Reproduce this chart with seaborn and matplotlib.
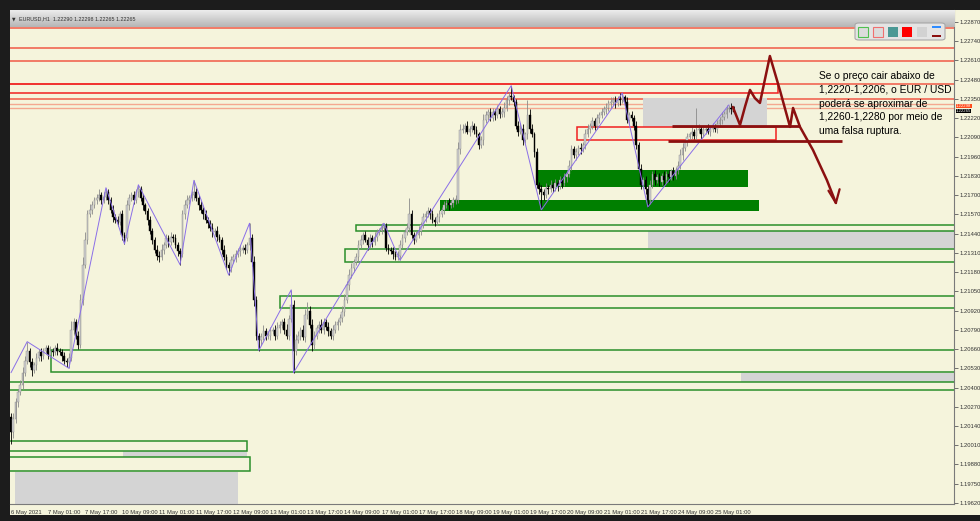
import numpy as np
import pandas as pd
import seaborn as sns
import matplotlib.pyplot as plt
from matplotlib.patches import Rectangle, FancyBboxPatch

# ---------------- data (EURUSD H1) ----------------
first_open = 1.2020
closes = [
    1.2010, 1.2019, 1.2030, 1.2037, 1.2042, 1.2050, 1.2058, 1.2065, 1.2057, 1.2052, 1.2055, 1.2060, 1.2064, 1.2061, 1.2065, 1.2067,
    1.2062, 1.2065, 1.2064, 1.2067, 1.2065, 1.2064, 1.2061, 1.2058, 1.2057, 1.2060, 1.2079, 1.2084, 1.2075, 1.2069, 1.2099, 1.2123,
    1.2140, 1.2157, 1.2160, 1.2163, 1.2167, 1.2168, 1.2170, 1.2167, 1.2169, 1.2172, 1.2167, 1.2160, 1.2155, 1.2153, 1.2152, 1.2157,
    1.2143, 1.2141, 1.2163, 1.2168, 1.2170, 1.2167, 1.2172, 1.2174, 1.2168, 1.2163, 1.2159, 1.2153, 1.2146, 1.2140, 1.2133, 1.2129,
    1.2128, 1.2133, 1.2136, 1.2141, 1.2138, 1.2142, 1.2141, 1.2136, 1.2132, 1.2130, 1.2157, 1.2163, 1.2167, 1.2168, 1.2170, 1.2172,
    1.2168, 1.2163, 1.2160, 1.2157, 1.2153, 1.2151, 1.2148, 1.2145, 1.2146, 1.2142, 1.2140, 1.2133, 1.2128, 1.2123, 1.2121, 1.2126,
    1.2128, 1.2130, 1.2132, 1.2133, 1.2134, 1.2133, 1.2136, 1.2141, 1.2125, 1.2099, 1.2075, 1.2072, 1.2074, 1.2078, 1.2075, 1.2075,
    1.2078, 1.2079, 1.2075, 1.2080, 1.2082, 1.2084, 1.2079, 1.2075, 1.2086, 1.2096, 1.2065, 1.2072, 1.2075, 1.2079, 1.2074, 1.2089,
    1.2092, 1.2082, 1.2069, 1.2075, 1.2080, 1.2082, 1.2079, 1.2084, 1.2081, 1.2078, 1.2075, 1.2079, 1.2082, 1.2084, 1.2087, 1.2091,
    1.2099, 1.2109, 1.2116, 1.2121, 1.2125, 1.2128, 1.2136, 1.2140, 1.2143, 1.2140, 1.2136, 1.2141, 1.2138, 1.2142, 1.2145, 1.2146,
    1.2148, 1.2149, 1.2134, 1.2133, 1.2132, 1.2130, 1.2128, 1.2129, 1.2136, 1.2141, 1.2145, 1.2148, 1.2157, 1.2143, 1.2140, 1.2143,
    1.2146, 1.2150, 1.2155, 1.2157, 1.2159, 1.2157, 1.2153, 1.2152, 1.2155, 1.2157, 1.2160, 1.2163, 1.2165, 1.2163, 1.2165, 1.2167,
    1.2167, 1.2201, 1.2214, 1.2215, 1.2217, 1.2213, 1.2215, 1.2217, 1.2214, 1.2211, 1.2204, 1.2207, 1.2221, 1.2224, 1.2226, 1.2222,
    1.2226, 1.2224, 1.2228, 1.2225, 1.2226, 1.2229, 1.2234, 1.2237, 1.2236, 1.2233, 1.2217, 1.2213, 1.2215, 1.2207, 1.2211, 1.2224,
    1.2215, 1.2211, 1.2199, 1.2177, 1.2174, 1.2172, 1.2170, 1.2175, 1.2174, 1.2177, 1.2175, 1.2178, 1.2176, 1.2180, 1.2178, 1.2182,
    1.2184, 1.2190, 1.2201, 1.2197, 1.2199, 1.2202, 1.2201, 1.2204, 1.2211, 1.2215, 1.2217, 1.2220, 1.2217, 1.2222, 1.2224, 1.2226,
    1.2228, 1.2229, 1.2232, 1.2233, 1.2234, 1.2232, 1.2235, 1.2234, 1.2236, 1.2233, 1.2221, 1.2224, 1.2222, 1.2217, 1.2204, 1.2188,
    1.2177, 1.2180, 1.2174, 1.2167, 1.2177, 1.2184, 1.2180, 1.2182, 1.2179, 1.2183, 1.2180, 1.2184, 1.2182, 1.2186, 1.2183, 1.2187,
    1.2190, 1.2197, 1.2202, 1.2206, 1.2209, 1.2211, 1.2213, 1.2210, 1.2214, 1.2215, 1.2211, 1.2214, 1.2215, 1.2213, 1.2215, 1.2216,
    1.2215, 1.2218, 1.2221, 1.2223, 1.2225, 1.2228, 1.2229, 1.2228, 1.22265,
]
# wick lengths in pips above / below the body
up_wick = [
    3, 4, 3, 2, 3, 4, 3, 6, 2, 3, 2, 3, 2, 3, 2, 2,
    2, 3, 2, 2, 3, 2, 2, 3, 2, 3, 6, 3, 2, 3, 4, 5,
    5, 3, 4, 3, 2, 3, 4, 2, 3, 3, 2, 2, 3, 2, 3, 2,
    3, 2, 4, 3, 2, 3, 2, 3, 2, 3, 2, 2, 3, 2, 2, 3,
    3, 4, 2, 3, 2, 3, 2, 3, 2, 2, 3, 4, 3, 2, 3, 8,
    3, 2, 3, 2, 3, 2, 2, 3, 2, 3, 2, 2, 3, 2, 2, 3,
    2, 3, 2, 3, 2, 3, 2, 10, 3, 4, 3, 2, 3, 4, 2, 3,
    3, 2, 3, 4, 3, 2, 3, 4, 3, 10, 3, 4, 3, 2, 3, 4,
    6, 3, 4, 3, 2, 3, 4, 3, 2, 3, 2, 3, 3, 2, 3, 4,
    4, 3, 4, 3, 2, 3, 4, 3, 2, 3, 2, 3, 2, 3, 2, 2,
    3, 2, 2, 3, 2, 3, 2, 3, 4, 3, 2, 3, 11, 3, 2, 3,
    3, 2, 3, 2, 3, 2, 3, 2, 3, 3, 2, 3, 2, 3, 2, 2,
    3, 5, 4, 3, 2, 3, 2, 3, 2, 3, 2, 3, 4, 3, 2, 3,
    3, 2, 3, 2, 3, 4, 3, 3, 7, 2, 2, 3, 4, 3, 2, 10,
    4, 3, 2, 3, 2, 3, 2, 3, 2, 3, 2, 3, 2, 3, 2, 3,
    3, 4, 3, 2, 3, 2, 3, 2, 4, 3, 2, 3, 2, 3, 2, 3,
    2, 3, 2, 3, 2, 3, 2, 4, 3, 2, 3, 2, 3, 2, 3, 2,
    3, 2, 3, 2, 3, 2, 3, 2, 3, 2, 3, 2, 3, 2, 3, 2,
    3, 4, 3, 2, 3, 2, 3, 2, 15, 3, 2, 3, 2, 3, 2, 3,
    2, 3, 2, 3, 2, 3, 2, 3, 2,
]
down_wick = [
    8, 4, 3, 3, 2, 3, 2, 2, 3, 4, 2, 3, 2, 3, 2, 2,
    3, 2, 3, 2, 3, 2, 3, 2, 3, 4, 2, 3, 2, 3, 2, 3,
    2, 3, 2, 3, 2, 3, 2, 3, 2, 2, 3, 2, 3, 2, 3, 2,
    3, 4, 2, 3, 2, 3, 2, 3, 2, 3, 2, 3, 2, 3, 2, 3,
    3, 2, 3, 2, 3, 2, 3, 2, 3, 7, 2, 3, 2, 3, 2, 3,
    2, 3, 2, 3, 2, 3, 2, 3, 2, 3, 2, 3, 2, 3, 5, 3,
    2, 3, 2, 3, 2, 3, 2, 3, 3, 4, 3, 7, 3, 2, 3, 2,
    3, 2, 3, 2, 3, 2, 3, 2, 3, 2, 15, 3, 2, 3, 2, 3,
    3, 2, 4, 3, 2, 3, 2, 3, 2, 3, 2, 3, 2, 3, 2, 3,
    3, 2, 3, 2, 3, 2, 3, 2, 3, 2, 3, 2, 3, 2, 3, 2,
    2, 3, 2, 3, 2, 3, 2, 2, 3, 2, 3, 2, 3, 2, 3, 2,
    2, 3, 2, 3, 2, 3, 2, 3, 2, 3, 2, 3, 2, 3, 2, 3,
    3, 2, 3, 2, 3, 2, 3, 2, 3, 2, 3, 2, 3, 2, 3, 2,
    2, 3, 2, 3, 2, 3, 2, 3, 2, 3, 2, 3, 2, 3, 2, 3,
    3, 2, 3, 2, 3, 12, 3, 2, 3, 2, 3, 2, 3, 2, 3, 2,
    3, 2, 3, 2, 3, 2, 3, 2, 3, 2, 3, 2, 3, 2, 3, 2,
    2, 3, 2, 3, 2, 3, 2, 3, 2, 3, 2, 3, 2, 3, 3, 2,
    3, 2, 3, 5, 3, 2, 3, 2, 3, 2, 3, 2, 3, 2, 3, 2,
    3, 2, 3, 2, 3, 2, 3, 2, 3, 2, 3, 2, 3, 2, 3, 2,
    2, 3, 2, 3, 2, 3, 2, 3, 0,
]

# zigzag indicator pivots
zz_bars = [0, 7, 25, 41, 49, 55, 73, 79, 94, 103, 107, 121, 122, 161, 168, 216, 229, 264, 275, 310]
zz_prices = [1.2050, 1.2071, 1.2053, 1.2175, 1.2137, 1.2177, 1.2123, 1.2180, 1.2116, 1.2151, 1.2065,
             1.2106, 1.2050, 1.2151, 1.2126, 1.2244, 1.2160, 1.2239, 1.2162, 1.2231]

x_tick_bars = [0, 16, 32, 48, 64, 80, 96, 112, 128, 144, 160, 176, 192, 208, 224, 240, 256, 272, 288, 304]
x_tick_labels = ['6 May 2021', '7 May 01:00', '7 May 17:00', '10 May 09:00', '11 May 01:00', '11 May 17:00',
                 '12 May 09:00', '13 May 01:00', '13 May 17:00', '14 May 09:00', '17 May 01:00', '17 May 17:00',
                 '18 May 09:00', '19 May 01:00', '19 May 17:00', '20 May 09:00', '21 May 01:00', '21 May 17:00',
                 '24 May 09:00', '25 May 01:00']
y_tick_labels = ['1.22870', '1.22740', '1.22610', '1.22480', '1.22350', '1.22220', '1.22090', '1.21960',
                 '1.21830', '1.21700', '1.21570', '1.21440', '1.21310', '1.21180', '1.21050', '1.20920',
                 '1.20790', '1.20660', '1.20530', '1.20400', '1.20270', '1.20140', '1.20010', '1.19880',
                 '1.19750', '1.19620']

# drawn objects (price levels, start/end bar)
red_levels = [1.22829, 1.22694, 1.22606, 1.22451, 1.22350]
pale_levels = [1.22316, 1.22289]
green_filled = [(227.5, 318.2, 1.21755, 1.21870), (185.2, 323.0, 1.21593, 1.21667)]
green_boxes = [(149.0, None, 1.21458, 1.21498), (144.2, None, 1.21248, 1.21336),
               (116.1, None, 1.20938, 1.21019), (17.3, None, 1.20505, 1.20654),
               (-1.0, None, 1.20384, 1.20437), (-1.0, 101.9, 1.19971, 1.20039),
               (-1.0, 103.2, 1.19836, 1.19931)]
gray_boxes = [(272.9, 326.4, 1.22161, 1.22357), (275.0, None, 1.21343, 1.21458),
              (315.2, None, 1.20437, 1.20498), (48.4, 101.9, 1.19931, 1.19971),
              (1.7, 98.0, 1.19600, 1.19829)]
red_boxes = [(244.4, 330.3, 1.22073, 1.22161), (-1.0, 331.2, 1.22390, 1.22451)]
darkred_lines = [(285.4, 340.7, 1.22167), (283.7, 358.8, 1.22066)]
path_bars = [311.7, 314.8, 317.0, 319.1, 321.2, 323.4, 327.7, 332.0, 336.4, 337.7, 340.7, 346.3, 352.3, 356.2]
path_prices = [1.22296, 1.22174, 1.22300, 1.22411, 1.22356, 1.22323, 1.22640, 1.22411, 1.22161,
               1.22289, 1.22161, 1.22005, 1.21802, 1.21647]
note = ("Se o preço cair abaixo de\n1,2220-1,2206, o EUR / USD\npoderá se aproximar de\n"
        "1,2260-1,2280 por meio de\numa falsa ruptura.")

# ---------------- build OHLC ----------------
df = pd.DataFrame({'close': closes})
df['open'] = [first_open] + closes[:-1]
df['high'] = df[['open', 'close']].max(axis=1) + np.array(up_wick) * 1e-4
df['low'] = df[['open', 'close']].min(axis=1) - np.array(down_wick) * 1e-4
df['bar'] = np.arange(len(df))
up = df['close'] >= df['open']

# ---------------- figure ----------------
W, H = 980, 521
CREAM = '#f5f4dc'
sns.set_style('white')
plt.rcParams['font.family'] = ['Liberation Sans', 'DejaVu Sans']

fig = plt.figure(figsize=(W / 100, H / 100), dpi=100, facecolor='#1c1c1c')
fig.add_artist(Rectangle((10 / W, 1 - 515 / H), 970 / W, 505 / H, transform=fig.transFigure,
                         facecolor=CREAM, edgecolor='none', zorder=-5))

ax = fig.add_axes([10 / W, 1 - 504 / H, 944 / W, 494 / H])
ax.set_facecolor(CREAM)
XL, XR = -0.43, 407.2
ax.set_xlim(XL, XR)
ax.set_ylim(1.19613, 1.22951)

# zones and levels
for y in red_levels:
    ax.axhline(y, color='#f05a46', lw=1.1, zorder=1)
for y in pale_levels:
    ax.axhline(y, color='#f4a890', lw=1.0, zorder=1)
for x0, x1, y0, y1 in gray_boxes:
    x1 = XR if x1 is None else x1
    ax.add_patch(Rectangle((x0, y0), x1 - x0, y1 - y0, facecolor='#d4d4d4', edgecolor='none', zorder=1))
for x0, x1, y0, y1 in green_filled:
    ax.add_patch(Rectangle((x0, y0), x1 - x0, y1 - y0, facecolor='#007f00', edgecolor='none', zorder=1.5))
for x0, x1, y0, y1 in green_boxes:
    x1 = XR + 2 if x1 is None else x1
    ax.add_patch(Rectangle((x0, y0), x1 - x0, y1 - y0, facecolor='none', edgecolor='#2a8f2a', lw=1.1, zorder=1.6))
for x0, x1, y0, y1 in red_boxes:
    ax.add_patch(Rectangle((x0, y0), x1 - x0, y1 - y0, facecolor='none', edgecolor='#f02020', lw=1.1, zorder=1.6))

# candles
ax.vlines(df['bar'], df['low'], df['high'], colors=np.where(up, '#8a8a8a', '#000000'), lw=0.6, zorder=3)
body_lo = df[['open', 'close']].min(axis=1)
body_h = (df['close'] - df['open']).abs().clip(lower=0.00004)
ax.bar(df['bar'], body_h, bottom=body_lo, width=0.72, color=np.where(up, '#cfcfcf', '#000000'),
       edgecolor=np.where(up, '#8a8a8a', '#000000'), lw=0.3, zorder=3.2)

# zigzag
zz = pd.DataFrame({'bar': zz_bars, 'price': zz_prices})
sns.lineplot(data=zz, x='bar', y='price', ax=ax, color='#8a6ee8', lw=0.7, zorder=4, sort=False)

# hand drawn forecast
for x0, x1, y in darkred_lines:
    ax.plot([x0, x1], [y, y], color='#8b1010', lw=2.0, zorder=5, solid_capstyle='butt')
ax.plot(path_bars, path_prices, color='#8b1010', lw=1.8, zorder=5)
ax.plot([353.0, path_bars[-1], 357.8], [1.21730, path_prices[-1], 1.21740], color='#8b1010', lw=1.6, zorder=5)

ax.text(348.9, 1.22540, note, fontsize=7.4, va='top', ha='left', linespacing=1.48, color='black', zorder=6)

# axes styling
for s in ['left', 'top']:
    ax.spines[s].set_visible(False)
for s in ['right', 'bottom']:
    ax.spines[s].set_color('#7a7a7a')
    ax.spines[s].set_linewidth(0.8)
ax.yaxis.tick_right()
ax.set_yticks([float(v) for v in y_tick_labels])
ax.set_yticklabels(y_tick_labels)
ax.set_xticks(x_tick_bars)
ax.set_xticklabels(x_tick_labels)
for lab in ax.get_xticklabels():
    lab.set_horizontalalignment('left')
ax.tick_params(axis='both', labelsize=4.2, colors='#5a5a5a', length=3, width=0.6, pad=1.2, labelcolor='#333333')
ax.set_xlabel('')
ax.set_ylabel('')
ax.grid(False)

# title bar
tb = fig.add_axes([10 / W, 1 - 27 / H, 944 / W, 17 / H])
grad = np.linspace(0, 1, 30).reshape(-1, 1)
tb.imshow(grad, aspect='auto', cmap=sns.blend_palette(['#ececec', '#b6b6b6'], as_cmap=True))
tb.axis('off')
fig.text(12 / W, 1 - 18.5 / H, '\u25bc', fontsize=3.3, color='#333333', va='center', family=['DejaVu Sans'])
fig.text(19 / W, 1 - 18.5 / H, 'EURUSD,H1  1.22290 1.22298 1.22265 1.22265', fontsize=3.9,
         color='#333333', va='center')

# price labels on right scale
fig.text(956 / W, 1 - 106.2 / H, '1.22298', fontsize=3.1, color='white', va='center',
         bbox=dict(boxstyle='square,pad=0.05', fc='#ff4a1a', ec='none'))
fig.text(956 / W, 1 - 111.2 / H, '1.22265', fontsize=3.1, color='white', va='center',
         bbox=dict(boxstyle='square,pad=0.05', fc='black', ec='none'))

# small object toolbar top right
def px_box(x0, y0, x1, y1, **kw):
    fig.add_artist(Rectangle((x0 / W, 1 - y1 / H), (x1 - x0) / W, (y1 - y0) / H, transform=fig.transFigure, **kw))

fig.add_artist(FancyBboxPatch((855 / W, 1 - 40 / H), 90 / W, 17 / H, boxstyle='round,pad=0,rounding_size=0.004',
                              transform=fig.transFigure, fc='#e4e4e4', ec='#a8a8a8', lw=0.8, zorder=8))
px_box(858, 27, 868, 37, fc='#dcdcdc', ec='#50c050', lw=0.8, zorder=9)
px_box(873, 27, 883, 37, fc='#dcdcdc', ec='#f07070', lw=0.8, zorder=9)
px_box(888, 27, 898, 37, fc='#4a9894', ec='none', zorder=9)
px_box(902, 27, 912, 37, fc='#ff0000', ec='none', zorder=9)
px_box(917, 27, 927, 37, fc='#d2d2d2', ec='none', zorder=9)
px_box(932, 26, 941, 28, fc='#2f8cff', ec='none', zorder=9)
px_box(932, 35, 941, 37, fc='#8b1010', ec='none', zorder=9)

fig.savefig('out.png', dpi=100, facecolor=fig.get_facecolor())
